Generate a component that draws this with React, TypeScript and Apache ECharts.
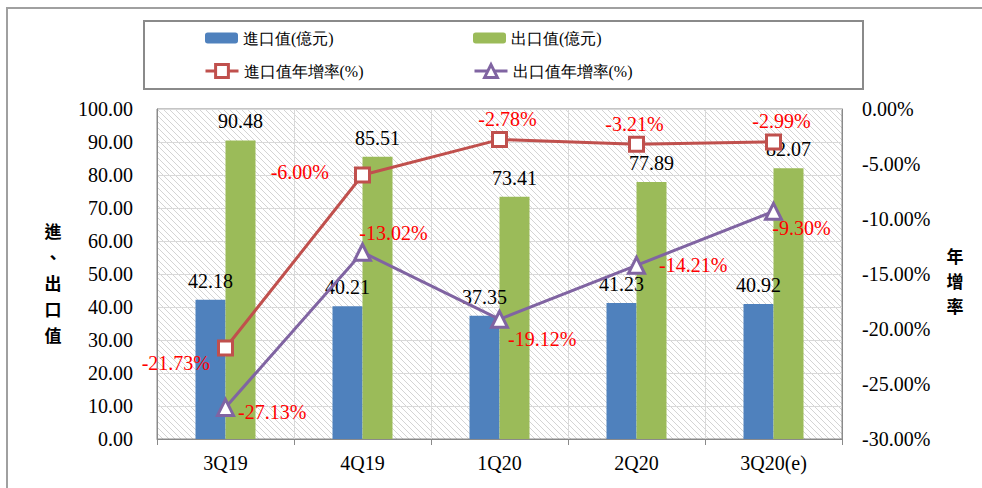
import React, { useEffect, useRef } from "react";
import * as echarts from "echarts";

const categories = ["3Q19", "4Q19", "1Q20", "2Q20", "3Q20(e)"];
const importValues = [42.18, 40.21, 37.35, 41.23, 40.92];
const exportValues = [90.48, 85.51, 73.41, 77.89, 82.07];
const importGrowth = [-21.73, -6.0, -2.78, -3.21, -2.99];
const exportGrowth = [-27.13, -13.02, -19.12, -14.21, -9.3];

const seriesNames = ["進口值(億元)", "出口值(億元)", "進口值年增率(%)", "出口值年增率(%)"];
const leftAxisName = "進\n、\n出\n口\n值";
const rightAxisName = "年\n增\n率";

// label placements for growth labels (style only)
const importLabelPlacement = [
  { position: "left", distance: 7, offset: [0, 15] },
  { position: "left", distance: 25, offset: [0, -3] },
  { position: "top", distance: 2, offset: [8, 0] },
  { position: "top", distance: 2, offset: [-2, 0] },
  { position: "top", distance: 2, offset: [8, 0] },
];
const exportLabelPlacement = [
  { position: "right", distance: 3, offset: [0, 5] },
  { position: "top", distance: 0, offset: [31, 0] },
  { position: "right", distance: 0, offset: [-1, 20] },
  { position: "right", distance: 13, offset: [0, 0] },
  { position: "bottom", distance: 0, offset: [28, -3] },
];

const SERIF = "Liberation Serif";

export default function App() {
  const ref = useRef<HTMLDivElement>(null);
  useEffect(() => {
    if (!ref.current) return;
    const chart = echarts.init(ref.current, undefined, { renderer: "svg" });

    const canvas = document.createElement("canvas");
    canvas.width = 6;
    canvas.height = 6;
    const ctx = canvas.getContext("2d");
    if (ctx) {
      ctx.fillStyle = "#ffffff";
      ctx.fillRect(0, 0, 6, 6);
      ctx.strokeStyle = "#d4d4d4";
      ctx.lineWidth = 1;
      ctx.beginPath();
      ctx.moveTo(-1, -1);
      ctx.lineTo(7, 7);
      ctx.moveTo(-4, 2);
      ctx.lineTo(4, 10);
      ctx.moveTo(2, -4);
      ctx.lineTo(10, 4);
      ctx.stroke();
    }
    const pattern = { image: canvas, repeat: "repeat" };

    const labelText = { fontFamily: SERIF, fontSize: 20, lineHeight: 20 };

    const option: any = {
      animation: false,
      backgroundColor: "#ffffff",
      textStyle: { fontFamily: SERIF },
      grid: {
        left: 157,
        right: 140,
        top: 109,
        bottom: 49,
        show: true,
        backgroundColor: pattern,
        borderColor: "#8a8a8a",
        borderWidth: 1,
      },
      legend: [
        { data: [seriesNames[0]], left: 205, top: 29, itemHeight: 11 },
        { data: [seriesNames[1]], left: 473, top: 29, itemHeight: 11 },
        { data: [seriesNames[2]], left: 204, top: 62, itemHeight: 16 },
        { data: [seriesNames[3]], left: 473, top: 62, itemHeight: 16 },
      ].map((l) => ({
        ...l,
        padding: 0,
        itemWidth: 33,
        selectedMode: false,
        lineStyle: { width: 3 },
        itemStyle: { borderWidth: 3 },
        textStyle: { fontFamily: SERIF, fontSize: 16, lineHeight: 18, color: "#000" },
      })),
      xAxis: {
        type: "category",
        data: categories,
        boundaryGap: true,
        axisLine: { lineStyle: { color: "#8a8a8a", width: 1 } },
        axisTick: { show: true, length: 6, lineStyle: { color: "#8a8a8a" } },
        axisLabel: { fontFamily: SERIF, fontSize: 20, color: "#000", margin: 14 },
        splitLine: { show: true, lineStyle: { color: "#d9d9d9", width: 1 } },
      },
      yAxis: [
        {
          type: "value",
          min: 0,
          max: 100,
          interval: 10,
          axisLine: { show: true, lineStyle: { color: "#8a8a8a" } },
          axisTick: { show: false },
          axisLabel: {
            fontFamily: SERIF,
            fontSize: 20,
            color: "#000",
            margin: 24,
            formatter: (v: number) => v.toFixed(2),
          },
          splitLine: { show: true, lineStyle: { color: "#d9d9d9", width: 1 } },
        },
        {
          type: "value",
          min: -30,
          max: 0,
          interval: 5,
          axisLine: { show: true, lineStyle: { color: "#8a8a8a" } },
          axisTick: { show: false },
          axisLabel: {
            fontFamily: SERIF,
            fontSize: 20,
            color: "#000",
            margin: 20,
            formatter: (v: number) => v.toFixed(2) + "%",
          },
          splitLine: { show: false },
        },
      ],
      graphic: [
        {
          type: "rect",
          shape: { x: 7, y: 8, width: 1200, height: 600 },
          style: { fill: "none", stroke: "#a0a0a0", lineWidth: 2 },
          silent: true,
        },
        {
          type: "rect",
          shape: { x: 144, y: 21, width: 719, height: 68 },
          style: { fill: "none", stroke: "#8a8a8a", lineWidth: 2 },
          silent: true,
        },
        {
          type: "text",
          x: 53,
          y: 217,
          style: {
            text: leftAxisName,
            fontFamily: "Noto Sans CJK TC",
            fontSize: 17,
            fontWeight: "bold",
            lineHeight: 26,
            fill: "#000",
            align: "center",
            verticalAlign: "top",
          },
        },
        {
          type: "text",
          x: 955,
          y: 243,
          style: {
            text: rightAxisName,
            fontFamily: "Noto Sans CJK TC",
            fontSize: 17,
            fontWeight: "bold",
            lineHeight: 25,
            fill: "#000",
            align: "center",
            verticalAlign: "top",
          },
        },
      ],
      series: [
        {
          name: seriesNames[0],
          type: "bar",
          data: importValues,
          barWidth: 30,
          barGap: "0%",
          itemStyle: { color: "#4F81BD" },
          label: {
            show: true,
            position: "top",
            distance: 9,
            color: "#000",
            ...labelText,
            formatter: (p: any) => Number(p.value).toFixed(2),
          },
        },
        {
          name: seriesNames[1],
          type: "bar",
          data: exportValues,
          barWidth: 30,
          barGap: "0%",
          itemStyle: { color: "#9BBB59" },
          label: {
            show: true,
            position: "top",
            distance: 9,
            color: "#000",
            ...labelText,
            formatter: (p: any) => Number(p.value).toFixed(2),
          },
        },
        {
          name: seriesNames[2],
          type: "line",
          yAxisIndex: 1,
          data: importGrowth.map((v, i) => ({
            value: v,
            label: { ...importLabelPlacement[i] },
          })),
          symbol: "rect",
          symbolSize: 14,
          lineStyle: { color: "#C0504D", width: 3 },
          itemStyle: { color: "#ffffff", borderColor: "#C0504D", borderWidth: 3 },
          label: {
            show: true,
            color: "#FF0000",
            ...labelText,
            formatter: (p: any) => Number(p.value).toFixed(2) + "%",
          },
          z: 5,
        },
        {
          name: seriesNames[3],
          type: "line",
          yAxisIndex: 1,
          data: exportGrowth.map((v, i) => ({
            value: v,
            label: { ...exportLabelPlacement[i] },
          })),
          symbol: "triangle",
          symbolSize: 16,
          lineStyle: { color: "#8064A2", width: 3 },
          itemStyle: { color: "#ffffff", borderColor: "#8064A2", borderWidth: 3 },
          label: {
            show: true,
            color: "#FF0000",
            ...labelText,
            formatter: (p: any) => Number(p.value).toFixed(2) + "%",
          },
          z: 5,
        },
      ],
    };
    chart.setOption(option);
    return () => chart.dispose();
  }, []);
  return (
    <div
      ref={ref}
      style={{ position: "fixed", left: 0, top: 0, width: 982, height: 488 }}
    />
  );
}
